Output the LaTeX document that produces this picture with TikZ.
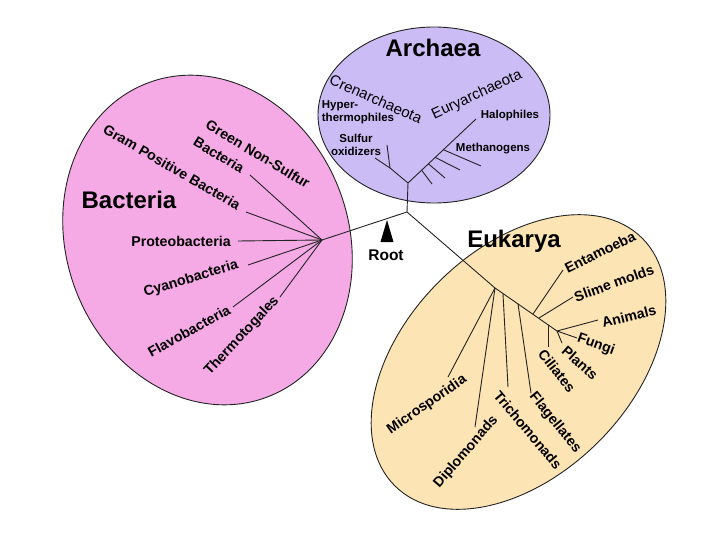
\documentclass[tikz,border=0pt]{standalone}
\usepackage{fontspec}
\setmainfont{Liberation Sans}
\usetikzlibrary{calc}
\definecolor{archc}{RGB}{204,188,246}
\definecolor{bactc}{RGB}{245,170,230}
\definecolor{eukc}{RGB}{252,228,180}
\definecolor{linec}{RGB}{35,35,35}
\begin{document}
\begin{tikzpicture}[x=1pt,y=-1pt,
  domainshape/.style={draw=linec, line width=0.9pt},
  branch/.style={draw=linec, line width=0.9pt},
  title/.style={font=\fontsize{24}{28}\selectfont\bfseries, inner sep=0pt},
  lab/.style={font=\fontsize{14.2}{16}\selectfont\bfseries, inner sep=0pt},
  phy/.style={font=\fontsize{15}{17}\selectfont, inner sep=0pt},
  sml/.style={font=\fontsize{11.5}{13}\selectfont\bfseries, inner sep=0pt}]
\fill[white] (0,0) rectangle (720,540);
\useasboundingbox (0,0) rectangle (720,540);

% domains
\draw[domainshape, fill=bactc, rotate around={21:(207.5,240)}] (207.5,240) ellipse [x radius=141, y radius=168];
\draw[domainshape, fill=eukc, rotate around={45:(518.5,362)}] (518.5,362) ellipse [x radius=175, y radius=113];
\draw[domainshape, fill=archc] (434,115) ellipse [x radius=116, y radius=88];

% tree junctions
\coordinate (root) at (407,212);
\coordinate (aj) at (408,183);
\coordinate (cj) at (390,168);
\coordinate (bj) at (322,240);
\coordinate (e0) at (495,288);
\coordinate (e1) at (503,294);
\coordinate (e2) at (518,304);
\coordinate (e3) at (533,314);
\coordinate (e4) at (539,318);
\coordinate (e5) at (548,325);
\coordinate (e6) at (557,331);

% archaea
\coordinate (hyp) at (387,145);
\coordinate (sul) at (375,158);
\coordinate (hal) at (476,119);
\draw[branch] (root) -- (aj) -- (cj) -- (hyp);
\draw[branch] (cj) -- (sul);
\draw[branch] (aj) -- (hal);
\coordinate (m1) at (432,184);
\coordinate (m2) at (445,178);
\coordinate (m3) at (460,170);
\coordinate (m4) at (481,166);
\draw[branch] ($(aj)!0.2!(hal)$) -- (m1);
\draw[branch] ($(aj)!0.3!(hal)$) -- (m2);
\draw[branch] ($(aj)!0.4!(hal)$) -- (m3);
\draw[branch] ($(aj)!0.52!(hal)$) -- (m4);

% bacteria
\coordinate (gns) at (250,175);
\coordinate (gp) at (246,212);
\coordinate (pro) at (238,241);
\coordinate (cya) at (248,265);
\coordinate (fla) at (233,307);
\coordinate (the) at (280,297);
\draw[branch] (root) -- (bj);
\foreach \p in {gns,gp,pro,cya,fla,the} \draw[branch] (bj) -- (\p);

% eukarya
\coordinate (mic) at (448,377);
\coordinate (dip) at (475,427);
\coordinate (tri) at (508,387);
\coordinate (flg) at (531,393);
\coordinate (ent) at (563,270);
\coordinate (sli) at (573,297);
\coordinate (cil) at (548,347);
\coordinate (ani) at (598,320);
\coordinate (fun) at (577,338);
\coordinate (pla) at (562,343);
\draw[branch] (root) -- (e0) -- (e6);
\draw[branch] (e0) -- (mic);
\draw[branch] (e0) -- (dip);
\draw[branch] (e1) -- (tri);
\draw[branch] (e2) -- (flg);
\draw[branch] (e3) -- (ent);
\draw[branch] (e4) -- (sli);
\draw[branch] (e5) -- (cil);
\draw[branch] (e6) -- (ani);
\draw[branch] (e6) -- (fun);
\draw[branch] (e6) -- (pla);

% root marker
\fill[black] (380.5,242) -- (387,220) -- (393.5,242) -- cycle;
\node[font=\fontsize{15.5}{17}\selectfont\bfseries, inner sep=0pt] (rootlab) at (386,255) {Root};

% titles
\node[title] (tarch) at (433,48) {Archaea};
\node[title] (tbact) at (129,200) {Bacteria};
\node[title] (teuk) at (514,241) {Eukarya};

% archaea labels
\node[phy, rotate=-24] (lcren) at (376,99) {Crenarchaeota};
\node[phy, rotate=25] (leury) at (477,95) {Euryarchaeota};
\node[sml, align=left] (lhyp) at (358,112) {Hyper-\\thermophiles};
\node[sml, align=center] (lsul) at (356,145) {Sulfur\\oxidizers};
\node[sml] (lhal) at (510,116) {Halophiles};
\node[sml] (lmet) at (493,149) {Methanogens};

% bacteria labels
\node[lab, rotate=-31] (lgns1) at (258,154) {Green Non-Sulfur};
\node[lab, rotate=-31] (lgns2) at (219,155) {Bacteria};
\node[lab, rotate=-30] (lgp) at (172,167) {Gram Positive Bacteria};
\node[lab] (lpro) at (181,241) {Proteobacteria};
\node[lab, rotate=17] (lcya) at (191,279) {Cyanobacteria};
\node[lab, rotate=29] (lfla) at (189,331) {Flavobacteria};
\node[lab, rotate=47] (lthe) at (242,336) {Thermotogales};

% eukarya labels
\node[lab, rotate=26] (lent) at (600,252) {Entamoeba};
\node[lab, rotate=20] (lsli) at (614,283) {Slime molds};
\node[lab, rotate=14] (lani) at (629,316) {Animals};
\node[lab, rotate=-20] (lfun) at (596,345) {Fungi};
\node[lab, rotate=-42] (lpla) at (580,363) {Plants};
\node[lab, rotate=-52] (lcil) at (557,371) {Ciliates};
\node[lab, rotate=35] (lmic) at (427,405) {Microsporidia};
\node[lab, rotate=49] (ldip) at (466,452) {Diplomonads};
\node[lab, rotate=-50] (ltri) at (528,430) {Trichomonads};
\node[lab, rotate=-51] (lflg) at (555,423) {Flagellates};
\end{tikzpicture}
\end{document}
